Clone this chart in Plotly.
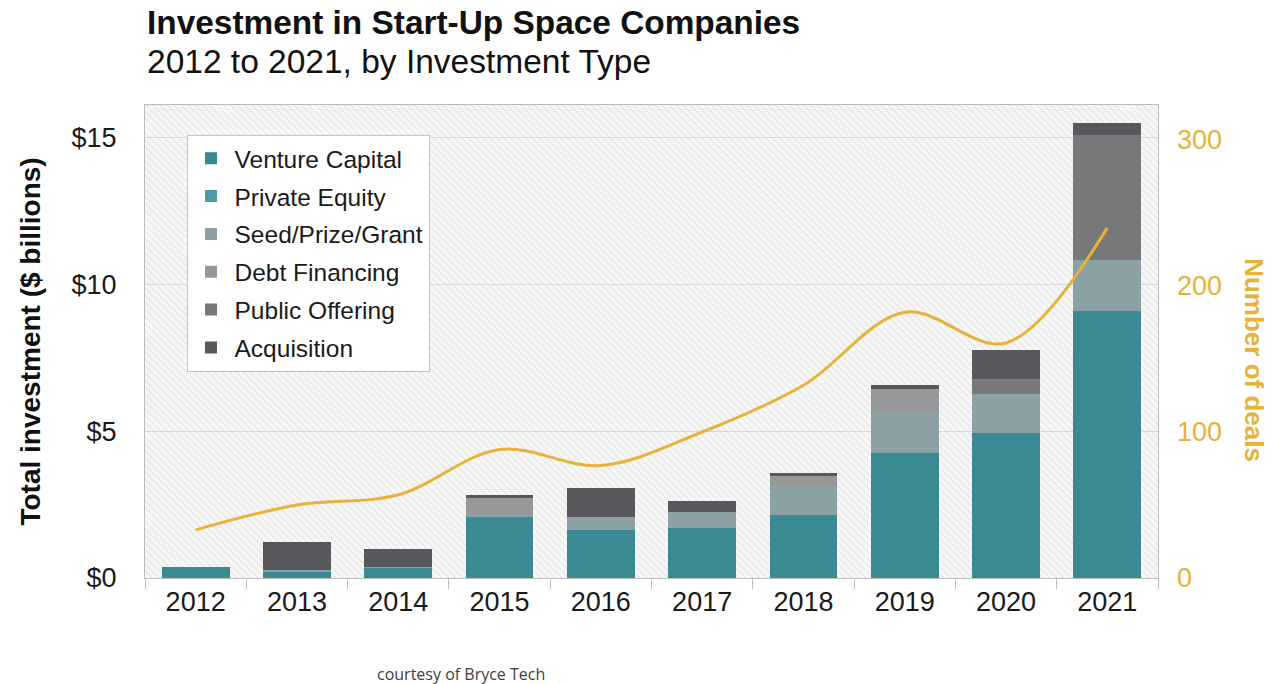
import base64
import plotly.graph_objects as go

# Investment in start-up space companies, $ billions, by type
years = ["2012", "2013", "2014", "2015", "2016", "2017", "2018", "2019", "2020", "2021"]
venture_capital = [0.37, 0.20, 0.36, 2.06, 1.63, 1.71, 2.14, 4.24, 4.92, 9.08]
private_equity = [0, 0, 0, 0, 0, 0, 0, 0, 0, 0]
seed_prize_grant = [0, 0.07, 0.02, 0.12, 0.46, 0.52, 1.02, 1.41, 1.34, 1.74]
debt_financing = [0, 0, 0, 0.55, 0, 0, 0.31, 0.80, 0, 0]
public_offering = [0, 0, 0, 0, 0, 0, 0, 0, 0.50, 4.25]
acquisition = [0, 0.96, 0.60, 0.09, 0.96, 0.39, 0.11, 0.11, 1.00, 0.41]

# Number of deals per year
deals = [33, 50, 57, 88, 77, 100, 132, 182, 161, 240]

y_ticks = [0, 5, 10, 15]
y_tick_text = ["$0", "$5", "$10", "$15"]
deal_ticks = [0, 100, 200, 300]

series = [
    ("Venture Capital", venture_capital, "#3b8992"),
    ("Private Equity", private_equity, "#4b9ba2"),
    ("Seed/Prize/Grant", seed_prize_grant, "#8ba1a4"),
    ("Debt Financing", debt_financing, "#959799"),
    ("Public Offering", public_offering, "#767879"),
    ("Acquisition", acquisition, "#56585b"),
]

GOLD = "#e6b23a"
FONT = "Liberation Sans, Arial, sans-serif"

# Hatched plot background (diagonal lines running down to the right)
W, H = 1013, 473
svg = (
    f'<svg xmlns="http://www.w3.org/2000/svg" width="{W}" height="{H}">'
    '<defs><pattern id="h" width="5" height="5" patternUnits="userSpaceOnUse" '
    'patternTransform="rotate(-45)">'
    '<rect width="5" height="5" fill="#f6f6f6"/>'
    '<line x1="0" y1="0" x2="0" y2="5" stroke="#dcdcdc" stroke-width="1.4"/>'
    '</pattern></defs>'
    f'<rect width="{W}" height="{H}" fill="url(#h)"/></svg>'
)
bg_uri = "data:image/svg+xml;base64," + base64.b64encode(svg.encode()).decode()

fig = go.Figure()

for i, (name, vals, color) in enumerate(series):
    fig.add_trace(go.Bar(
        x=years, y=vals, name=name,
        marker=dict(color=color, line=dict(width=0)),
        legendgroup=f"g{i}",
    ))

fig.add_trace(go.Scatter(
    x=years, y=deals, yaxis="y2", mode="lines",
    line=dict(color=GOLD, width=3, shape="spline", smoothing=1.0),
    showlegend=False,
))

fig.update_layout(
    width=1271, height=684,
    margin=dict(l=145, r=113, t=105, b=106),
    paper_bgcolor="white",
    plot_bgcolor="#f3f3f3",
    barmode="stack",
    bargap=0.33,
    font=dict(family=FONT, color="#1a1a1a"),
    images=[dict(
        source=bg_uri, xref="paper", yref="paper", x=0, y=1,
        sizex=1, sizey=1, sizing="stretch", layer="below",
        xanchor="left", yanchor="top",
    )],
    xaxis=dict(
        type="category",
        showline=True, linecolor="#bdbdbd", linewidth=1, mirror=True,
        ticks="outside", tickson="boundaries", ticklen=10, tickcolor="#bdbdbd",
        tickfont=dict(size=27, color="#1a1a1a"),
        showgrid=False,
    ),
    yaxis=dict(
        range=[0, 16.1],
        tickvals=y_ticks, ticktext=y_tick_text,
        tickfont=dict(size=27, color="#1a1a1a"),
        ticklabelstandoff=22,
        showline=True, linecolor="#bdbdbd", linewidth=1, mirror=True,
        showgrid=True, gridcolor="#d6d6d6", gridwidth=1,
        zeroline=False,
    ),
    yaxis2=dict(
        overlaying="y", side="right",
        range=[0, 324],
        tickvals=deal_ticks,
        tickfont=dict(size=27, color=GOLD),
        ticklabelstandoff=18,
        showgrid=False, zeroline=False, showline=False,
    ),
    legend=dict(
        x=0.041, y=0.937, xanchor="left", yanchor="top",
        bgcolor="white", bordercolor="#c4c4c4", borderwidth=1,
        font=dict(size=24.5, color="#1a1a1a"),
        traceorder="grouped", tracegroupgap=3,
        itemwidth=37,
    ),
    annotations=[
        dict(text="<b>Investment in Start-Up Space Companies</b>",
             xref="paper", yref="paper", x=0.0, y=1.175,
             xanchor="left", yanchor="middle", showarrow=False,
             font=dict(size=33.4, color="#111111")),
        dict(text="2012 to 2021, by Investment Type",
             xref="paper", yref="paper", x=0.0, y=1.091,
             xanchor="left", yanchor="middle", showarrow=False,
             font=dict(size=33.5, color="#111111")),
        dict(text="<b>Total investment ($ billions)</b>",
             xref="paper", yref="paper", x=-0.1135, y=0.5,
             xanchor="center", yanchor="middle", showarrow=False,
             textangle=-90, font=dict(size=28, color="#111111")),
        dict(text="<b>Number of deals</b>",
             xref="paper", yref="paper", x=1.094, y=0.46,
             xanchor="center", yanchor="middle", showarrow=False,
             textangle=90, font=dict(size=26, color=GOLD)),
        dict(text="courtesy of Bryce Tech",
             xref="paper", yref="paper", x=0.227, y=-0.203,
             xanchor="left", yanchor="middle", showarrow=False,
             font=dict(size=16, color="#404040", family="Open Sans, sans-serif")),
    ],
)

fig.write_html("out.html")
